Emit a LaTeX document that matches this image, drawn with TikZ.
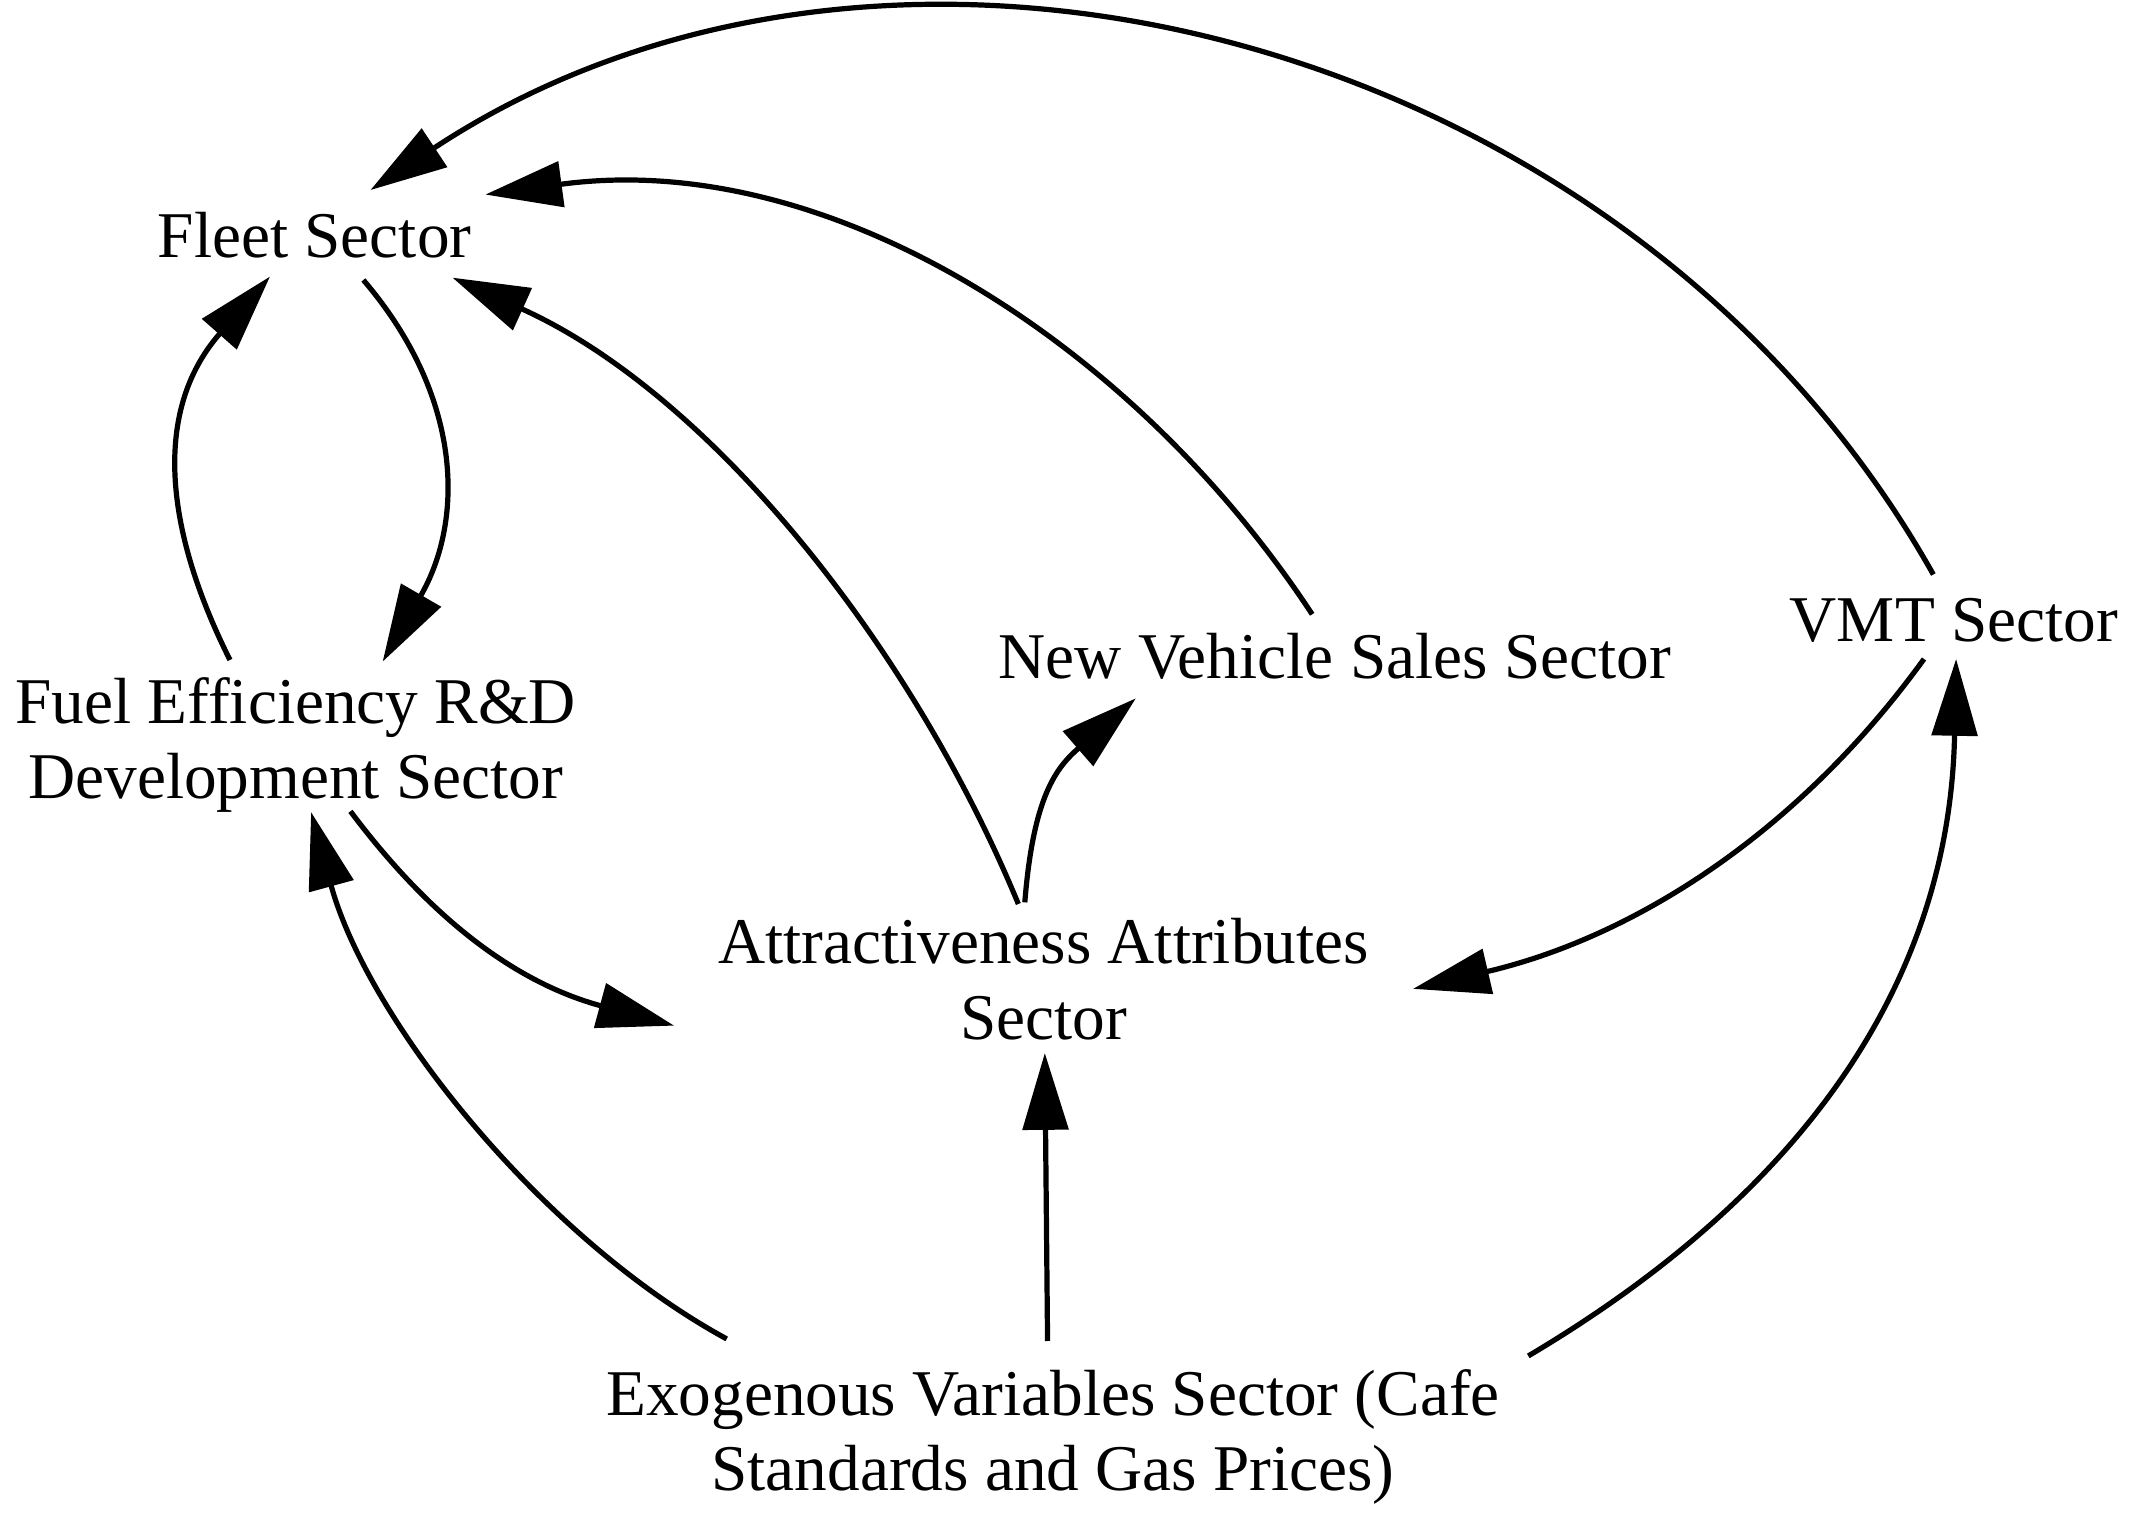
\documentclass[tikz,border=0pt]{standalone}
\usepackage{fontspec}
\setmainfont{Liberation Serif}
\usetikzlibrary{arrows.meta,calc}
\begin{document}
\begin{tikzpicture}[x=0.5pt,y=-0.5pt,
  lbl/.style={inner sep=0pt,align=center,font=\fontsize{23.8}{27.5}\selectfont},
  conn/.style={line width=1.9pt,-{Triangle[length=28pt,width=16.5pt]}}]
\useasboundingbox[fill=white] (0,0) rectangle (1560,1114);
\node[lbl] (fleet) at (229.4,171.7) {Fleet Sector};
\node[lbl] (fuel) at (215.7,543.5) {Fuel Efficiency R\&D\\Development Sector};
\node[lbl] (nvs) at (973.4,478.7) {New Vehicle Sales Sector};
\node[lbl] (vmt) at (1425,452.3) {VMT Sector};
\node[lbl] (attr) at (761,714) {Attractiveness Attributes\\Sector};
\node[lbl] (exo) at (768,1048) {Exogenous Variables Sector (Cafe\\Standards and Gas Prices)};
% connectors
\draw[conn] ($(vmt)+(-15,-33.3)$) .. controls +(-221.1,-393.8) and +(380.1,-251.1) .. ($(fleet)+(40.8,-33.1)$);
\draw[conn] ($(nvs)+(-16.4,-30.7)$) .. controls +(-131.6,-199.8) and +(248.7,-33.9) .. ($(fleet)+(124.6,-29.8)$);
\draw[conn] ($(attr)+(-18.3,-54.7)$) .. controls +(-77,-186.4) and +(189.3,85.3) .. ($(fleet)+(100.6,30.8)$);
\draw[conn] ($(fleet)+(35.6,32.5)$) .. controls +(72.1,84.3) and +(60,-103.9) .. ($(fuel)+(63.4,-61)$);
\draw[conn] ($(fuel)+(-48,-62.2)$) .. controls +(-52.4,-104.9) and +(-81.7,92.9) .. ($(fleet)+(-32.5,30)$);
\draw[conn] ($(attr)+(-13.6,-55.9)$) .. controls +(6.2,-77.8) and +(-57.8,50.3) .. ($(nvs)+(-145,30.6)$);
\draw[conn] ($(fuel)+(39.9,48.2)$) .. controls +(65.5,87.4) and +(-107.4,-29.1) .. ($(attr)+(-269.4,34)$);
\draw[conn] ($(exo)+(-238,-71.5)$) .. controls +(-135.6,-74) and +(41.1,150.7) .. ($(fuel)+(11.2,48.8)$);
\draw[conn] ($(exo)+(-4,-70)$) -- ($(attr)+(1,54)$);
\draw[conn] ($(exo)+(346.6,-59.1)$) .. controls +(200,-118.6) and +(-4.7,236.1) .. ($(vmt)+(1.6,28.3)$);
\draw[conn] ($(vmt)+(-21.8,28.3)$) .. controls +(-91.8,126.8) and +(161.4,-37.8) .. ($(attr)+(269.6,7.2)$);
\end{tikzpicture}
\end{document}
